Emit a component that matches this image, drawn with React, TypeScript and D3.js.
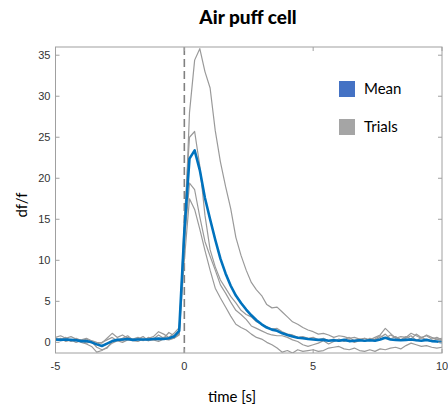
import React from "react";
import * as d3 from "d3";

// sampling of the traces
const T_START = -5;
const T_STEP = 0.2;

const trialA = [0.6,0.8,0.5,0.7,0.4,0.3,0.5,0.2,0.0,-0.1,0.5,1.1,0.6,0.9,0.5,0.4,0.6,0.3,0.5,0.7,1.3,1.0,0.6,1.1,1.8,
  12.0,28.0,34.4,35.8,33.0,31.0,25.8,22.0,19.0,16.3,12.8,10.6,8.8,7.3,6.4,5.7,4.6,4.2,4.3,3.7,3.1,2.5,2.2,1.8,1.5,
  1.3,1.0,1.1,0.9,0.6,0.8,0.7,0.5,0.6,0.4,0.5,0.3,0.6,0.9,1.7,1.1,0.5,0.7,0.6,1.1,0.8,0.5,0.9,0.6,0.4,0.5];
const trialB = [0.3,0.2,0.4,0.1,0.3,0.0,-0.2,-0.5,-1.2,-1.0,-0.6,-0.1,0.2,0.0,0.3,0.2,0.1,0.4,0.2,0.3,0.1,0.4,0.3,0.5,1.0,
  15.0,25.0,25.7,21.5,15.5,11.3,9.2,7.6,6.6,5.6,4.8,3.9,3.4,3.1,2.5,2.2,1.9,1.6,1.7,1.3,1.0,0.9,0.6,0.7,0.5,
  0.6,0.3,0.5,0.2,0.4,0.1,0.3,0.6,0.2,0.4,0.1,0.5,0.3,0.6,1.0,0.4,0.7,0.3,0.5,0.8,0.2,0.6,0.3,0.1,0.4,0.2];
const trialC = [0.5,0.3,0.6,0.2,0.5,0.2,0.4,0.1,-0.6,-0.9,-0.7,0.1,0.4,0.2,0.6,0.3,0.5,0.2,0.6,0.4,0.9,0.5,1.2,0.8,1.1,
  12.0,19.4,18.6,15.3,12.3,10.5,8.8,7.0,6.0,4.9,3.9,3.4,2.8,2.0,1.7,1.4,1.1,0.9,0.8,0.8,0.6,0.3,0.1,-0.3,-0.5,
  -0.3,-0.1,0.2,-0.2,0.1,0.4,0.1,0.3,0.0,0.2,0.5,0.2,0.4,0.8,0.5,0.9,0.6,0.3,0.7,0.4,1.0,0.6,0.8,0.4,0.6,0.3];
const trialD = [0.2,0.5,0.1,0.3,0.0,0.2,-0.1,0.1,-0.2,0.0,0.3,0.6,0.2,0.5,0.8,0.3,0.4,0.7,0.2,0.5,0.3,0.6,0.4,0.5,0.9,
  10.0,17.5,16.2,13.8,11.2,8.8,6.6,5.4,4.3,3.2,2.2,1.8,1.5,1.0,0.6,0.4,0.0,-0.3,-0.7,-1.2,-1.0,-1.3,-0.9,-1.1,-1.0,
  -0.9,-1.1,-1.0,-0.7,-0.6,-0.5,-0.8,-0.9,-0.7,-1.0,-1.1,-0.9,-1.1,-0.8,-0.9,-0.7,-0.6,-0.8,-0.4,-0.1,-0.3,-0.5,-0.4,-0.6,-0.7,-0.6];
const meanTrace = [0.35,0.3,0.35,0.3,0.25,0.15,0.15,0.0,-0.25,-0.45,-0.15,0.15,0.3,0.35,0.4,0.3,0.35,0.35,0.35,0.4,0.45,0.4,0.5,0.7,1.4,
  13.5,22.4,23.4,21.0,17.6,15.0,12.5,10.2,8.4,6.9,5.7,4.8,4.0,3.3,2.7,2.2,1.8,1.55,1.4,1.1,0.9,0.7,0.55,0.5,0.4,
  0.35,0.3,0.3,0.2,0.25,0.2,0.3,0.15,0.2,0.25,0.2,0.25,0.2,0.35,0.55,0.35,0.3,0.25,0.3,0.35,0.25,0.2,0.3,0.15,0.1,0.0];

const trials = [trialA, trialB, trialC, trialD];

const xTicks = [-5, 0, 5, 10];
const yTicks = [0, 5, 10, 15, 20, 25, 30, 35];
const legendItems = [
  { label: "Mean", color: "#4472C4" },
  { label: "Trials", color: "#A5A5A5" },
];

const W = 448;
const H = 410;
const M = { left: 55.5, right: 442, top: 47, bottom: 353 };

export default function App() {
  const x = d3.scaleLinear().domain([-5, 10]).range([M.left, M.right]);
  const y = d3.scaleLinear().domain([-1.3, 36]).range([M.bottom, M.top]);
  const line = d3
    .line<number>()
    .x((_, i) => x(T_START + i * T_STEP))
    .y((d) => y(d));

  const axisColor = "#a0a0a0";
  const textColor = "#333";
  const tickFont = "'Liberation Sans', Arial, sans-serif";
  const labelFont = "Lato, 'Open Sans', sans-serif";

  return (
    <svg width={W} height={H} style={{ position: "absolute", left: 0, top: 0 }}>
      <rect x={0} y={0} width={W} height={H} fill="#fff" />
      <defs>
        <clipPath id="plotclip">
          <rect x={M.left} y={M.top} width={M.right - M.left} height={M.bottom - M.top} />
        </clipPath>
      </defs>

      <text x={248} y={24} textAnchor="middle" fontFamily={labelFont} fontWeight={900} fontSize={19} fill="#000">
        Air puff cell
      </text>

      <g clipPath="url(#plotclip)">
        <line x1={x(0)} x2={x(0)} y1={M.top} y2={M.bottom} stroke="#808080" strokeWidth={1.6} strokeDasharray="8,4" />
        {trials.map((tr, k) => (
          <path key={k} d={line(tr) || ""} fill="none" stroke="#9a9a9a" strokeWidth={1.2} strokeLinejoin="round" />
        ))}
        <path d={line(meanTrace) || ""} fill="none" stroke="#0072BD" strokeWidth={2.6} strokeLinejoin="round" />
      </g>

      {/* box */}
      <rect x={M.left} y={M.top} width={M.right - M.left} height={M.bottom - M.top} fill="none" stroke={axisColor} strokeWidth={1} />

      {/* y ticks */}
      {yTicks.map((t) => (
        <g key={"y" + t}>
          <line x1={M.left} x2={M.left + 4} y1={y(t)} y2={y(t)} stroke={axisColor} />
          <line x1={M.right - 4} x2={M.right} y1={y(t)} y2={y(t)} stroke={axisColor} />
          <text x={M.left - 5} y={y(t) + 4} textAnchor="end" fontFamily={tickFont} fontSize={11} fill={textColor}>
            {t}
          </text>
        </g>
      ))}
      {/* x ticks */}
      {xTicks.map((t) => (
        <g key={"x" + t}>
          <line x1={x(t)} x2={x(t)} y1={M.bottom} y2={M.bottom - 4} stroke={axisColor} />
          <line x1={x(t)} x2={x(t)} y1={M.top} y2={M.top + 4} stroke={axisColor} />
          <text x={x(t)} y={370} textAnchor="middle" fontFamily={tickFont} fontSize={11} fill={textColor}>
            {t}
          </text>
        </g>
      ))}

      <text
        transform={`translate(27,205) rotate(-90)`}
        textAnchor="middle"
        fontFamily={labelFont}
        fontSize={15}
        fill="#000"
      >
        df/f
      </text>
      <text x={232} y={402} textAnchor="middle" fontFamily={labelFont} fontSize={15} fill="#000">
        time [s]
      </text>

      {legendItems.map((it, i) => (
        <g key={it.label}>
          <rect x={339} y={81 + i * 38} width={16} height={16} fill={it.color} />
          <text x={364} y={94 + i * 38} fontFamily={labelFont} fontSize={15} fill="#000">
            {it.label}
          </text>
        </g>
      ))}
    </svg>
  );
}
